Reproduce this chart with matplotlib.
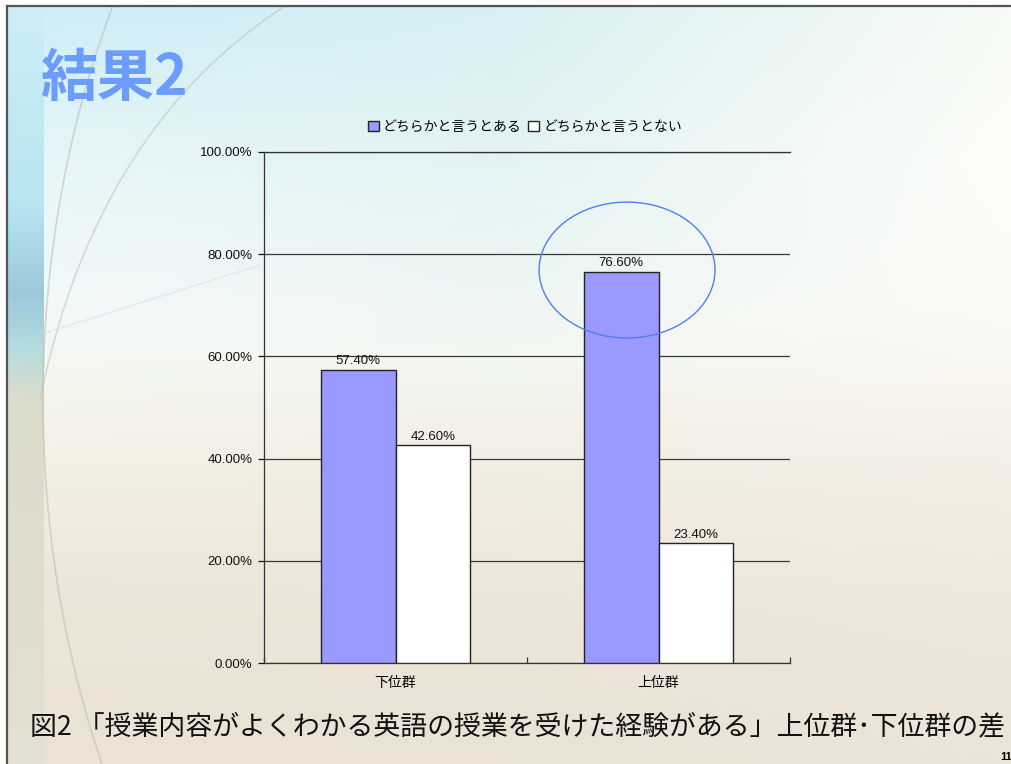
import numpy as np
import matplotlib
matplotlib.use("Agg")
import matplotlib.pyplot as plt
from matplotlib.colors import to_rgb
from matplotlib.patches import Ellipse

plt.rcParams['font.family'] = ['Noto Sans CJK JP', 'DejaVu Sans']

groups = ['下位群', '上位群']
series_names = ['どちらかと言うとある', 'どちらかと言うとない']
yes_pct = [57.4, 76.6]
no_pct = [42.6, 23.4]
y_ticks = [0, 20, 40, 60, 80, 100]

title = '結果2'
caption = '図2 「授業内容がよくわかる英語の授業を受けた経験がある」上位群･下位群の差'
page_no = '11'

W, H = 1011, 764
fig = plt.figure(figsize=(W / 100, H / 100), dpi=100)


def column(stops, n):
    pos = [p for p, _ in stops]
    cols = np.array([to_rgb(c) for _, c in stops])
    t = np.linspace(0, 1, n)
    return np.stack([np.interp(t, pos, cols[:, k]) for k in range(3)], axis=1)


# slide background: soft cyan at the top fading into beige
bg = fig.add_axes([0, 0, 1, 1], zorder=-10)
bg.set_xlim(0, W)
bg.set_ylim(H, 0)
bg.axis('off')

n = 200
left = column([(0, '#cdeef6'), (0.2, '#e6f6f9'), (0.4, '#f3f9f9'), (0.55, '#f5f3ea'),
               (0.75, '#eee6da'), (1, '#ebe2d5')], n)
mid = column([(0, '#d8eff3'), (0.25, '#e6f4f5'), (0.45, '#f3f7f2'), (0.6, '#f2eee4'),
              (0.8, '#ede5d9'), (1, '#ebe2d6')], n)
right = column([(0, '#f7fbf5'), (0.2, '#fcfdf8'), (0.4, '#fbfbf6'), (0.6, '#f4efe6'),
                (0.8, '#eee7dc'), (1, '#ece4d8')], n)
u = np.linspace(0, 1, n)[None, :, None]
w_l = np.clip(1 - 2 * u, 0, 1)
w_r = np.clip(2 * u - 1, 0, 1)
w_m = 1 - w_l - w_r
grad = left[:, None, :] * w_l + mid[:, None, :] * w_m + right[:, None, :] * w_r
bg.imshow(grad, extent=(7, W, H, 6), aspect='auto', interpolation='bilinear')

strip = column([(0, '#cdeef5'), (0.26, '#b7e5f0'), (0.38, '#9cc8da'), (0.45, '#b2dcdf'),
                (0.52, '#dcdccb'), (0.8, '#e0ddce'), (1, '#e4e0d3')], n)
bg.imshow(strip[:, None, :], extent=(7, 44, H, 6), aspect='auto', interpolation='bilinear')

# decorative arcs
t = np.linspace(0, 1, 200)
ys = np.linspace(6, H, 200)
ax1 = 643 - 600 * np.sqrt(np.clip(1 - ((ys - 400) / 842) ** 2, 0, 1))
bg.plot(ax1, ys, color='#bdb8b0', lw=1.2, alpha=0.55)
p0, p1, p2 = np.array([285, 6]), np.array([95, 130]), np.array([40, 400])
bez = ((1 - t) ** 2)[:, None] * p0 + (2 * (1 - t) * t)[:, None] * p1 + (t ** 2)[:, None] * p2
bg.plot(bez[:, 0], bez[:, 1], color='#c2bdb5', lw=1.1, alpha=0.55)
bg.plot([7, 260], [345, 265], color='#cfdde2', lw=1.0, alpha=0.5)

bg.plot([7, W], [6, 6], color='#555555', lw=1.6)
bg.plot([7, 7], [6, H], color='#555555', lw=1.6)

# chart
ax = fig.add_axes([264 / W, 1 - 663 / H, 526 / W, 511 / H])
ax.set_facecolor('none')

x = np.arange(len(groups))
bw = 0.285
b_yes = ax.bar(x - bw / 2, yes_pct, bw, color='#9999ff', edgecolor='#222222', lw=1,
               label=series_names[0], zorder=3)
b_no = ax.bar(x + bw / 2, no_pct, bw, color='#ffffff', edgecolor='#222222', lw=1,
              label=series_names[1], zorder=3)

for bars, vals in [(b_yes, yes_pct), (b_no, no_pct)]:
    for rect, v in zip(bars, vals):
        ax.annotate(f'{v:.2f}%', (rect.get_x() + rect.get_width() / 2, v),
                    xytext=(0, 2), textcoords='offset points', ha='center', va='bottom',
                    fontsize=9.5, family=['Liberation Sans'], color='#111111')

ax.set_xlim(-0.5, len(groups) - 0.5)
ax.set_ylim(0, 100)
ax.set_yticks(y_ticks)
ax.set_yticklabels([f'{v:.2f}%' for v in y_ticks], family=['Liberation Sans'], fontsize=9.5)
ax.yaxis.grid(True, color='#3a3a3a', lw=0.9)
ax.set_axisbelow(True)
ax.tick_params(axis='y', direction='out', length=4.5, width=0.9, pad=4, colors='#111111')

ax.set_xticks(x)
ax.set_xticklabels(groups, fontsize=10)
ax.set_xticks(np.arange(len(groups) + 1) - 0.5, minor=True)
ax.tick_params(axis='x', which='major', length=0, pad=9)
ax.tick_params(axis='x', which='minor', direction='in', length=4, width=0.9, color='#333333')

for s in ['left', 'bottom', 'top']:
    ax.spines[s].set_color('#333333')
    ax.spines[s].set_linewidth(0.9)
ax.spines['right'].set_visible(False)

# highlight the upper group's positive answer
hx = x[1] - bw / 2 + 0.023
ax.add_patch(Ellipse((hx, yes_pct[1] + 0.3), 0.669, 26.6, fill=False,
                     edgecolor='#4f7ff0', lw=1.0, clip_on=False, zorder=5))

fig.legend(handles=[b_yes, b_no], loc='center', bbox_to_anchor=(525 / W, 1 - 127 / H),
           ncol=2, frameon=False, fontsize=10, handlelength=0.75, handleheight=0.75,
           handletextpad=0.3, columnspacing=0.5)

fig.text(40 / W, 1 - 79 / H, title, fontsize=41, weight='bold', color='#6b9cff',
         va='center', ha='left')
fig.text(30 / W, 1 - 727 / H, caption, fontsize=19.4, color='#111111', va='center', ha='left')
fig.text(1000 / W, 1 - 757 / H, page_no, fontsize=8, weight='bold', family=['Liberation Sans'],
         va='center', ha='left')

fig.savefig('out.png', dpi=100)
